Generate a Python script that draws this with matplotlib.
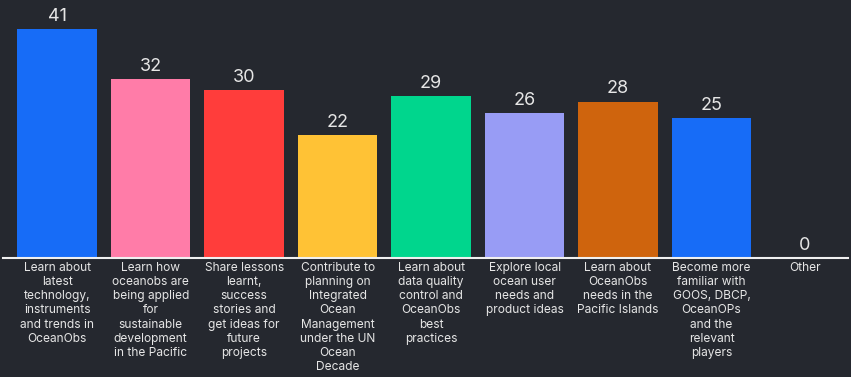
import matplotlib
matplotlib.use("Agg")
import matplotlib.pyplot as plt

labels = [
    "Learn about\nlatest\ntechnology,\ninstruments\nand trends in\nOceanObs",
    "Learn how\noceanobs are\nbeing applied\nfor\nsustainable\ndevelopment\nin the Pacific",
    "Share lessons\nlearnt,\nsuccess\nstories and\nget ideas for\nfuture\nprojects",
    "Contribute to\nplanning on\nIntegrated\nOcean\nManagement\nunder the UN\nOcean\nDecade",
    "Learn about\ndata quality\ncontrol and\nOceanObs\nbest\npractices",
    "Explore local\nocean user\nneeds and\nproduct ideas",
    "Learn about\nOceanObs\nneeds in the\nPacific Islands",
    "Become more\nfamiliar with\nGOOS, DBCP,\nOceanOPs\nand the\nrelevant\nplayers",
    "Other",
]
counts = [41, 32, 30, 22, 29, 26, 28, 25, 0]
colors = ["#176cf7", "#ff7ca8", "#ff3d3b", "#ffc235", "#00d68d",
          "#989cf5", "#cf640d", "#176cf7", "#176cf7"]

bg = "#25282f"
txt = "#e6e6e6"

fig = plt.figure(figsize=(8.51, 3.77), dpi=100, facecolor=bg)
ax = fig.add_axes([3 / 851, 1 - 258 / 377, 848 / 851 - 3 / 851, 258 / 377])
ax.set_facecolor(bg)

x = range(len(counts))
bars = ax.bar(x, counts, width=0.85, color=colors)
ax.set_xlim(-0.58, 8.46)
ax.set_ylim(0, 46.2)

for b, v in zip(bars, counts):
    ax.annotate(str(v), (b.get_x() + b.get_width() / 2, v),
                xytext=(0, 3), textcoords="offset points",
                ha="center", va="bottom", fontsize=13,
                color=txt, family="Inter")

for i, lab in enumerate(labels):
    ax.text(i, -0.7, lab, ha="center", va="top", fontsize=8.6,
            color=txt, family="Inter", linespacing=1.24)

for s in ["top", "right", "left"]:
    ax.spines[s].set_visible(False)
ax.spines["bottom"].set_color("#f0f0f0")
ax.spines["bottom"].set_linewidth(1.5)
ax.set_xticks([])
ax.set_yticks([])

fig.savefig("out.png", dpi=100, facecolor=bg)
